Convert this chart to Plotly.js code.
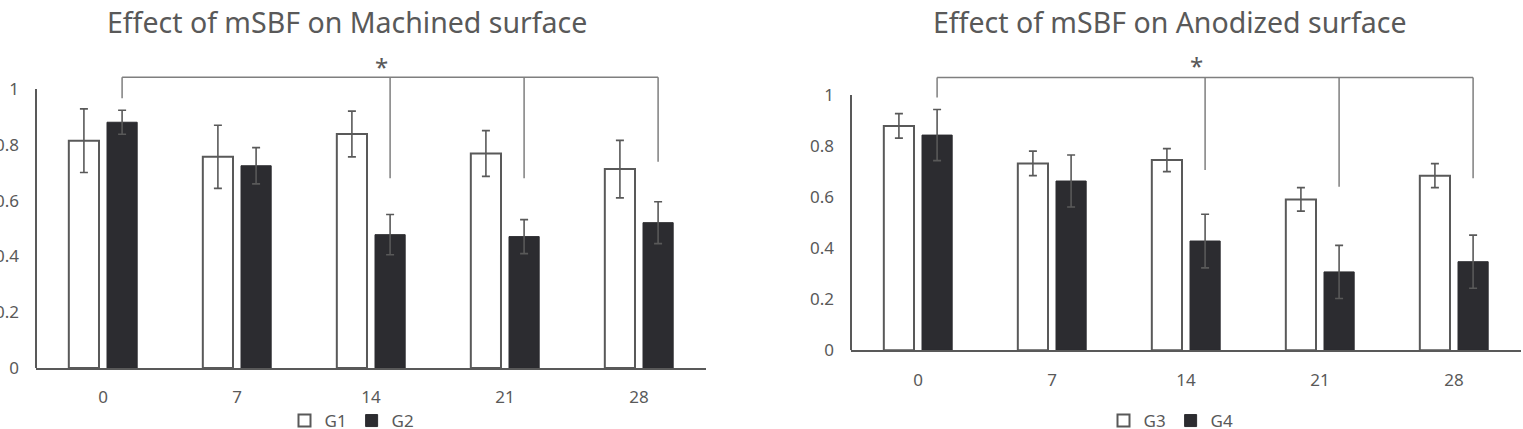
<!DOCTYPE html>
<html>
<head>
<meta charset="utf-8">
<script src="https://cdn.plot.ly/plotly-3.0.1.min.js"></script>
<style>
  html, body { margin: 0; padding: 0; background: #ffffff; }
  #chart { width: 1523px; height: 429px; }
</style>
</head>
<body>
<div id="chart"></div>
<script>
// Days of immersion in mSBF
const days = ['0', '7', '14', '21', '28'];

// Machined surface groups
const g1 = [0.815, 0.757, 0.839, 0.769, 0.713];
const g1Err = [0.114, 0.113, 0.082, 0.082, 0.103];
const g2 = [0.881, 0.725, 0.478, 0.471, 0.521];
const g2Err = [0.043, 0.065, 0.072, 0.061, 0.075];

// Anodized surface groups
const g3 = [0.879, 0.732, 0.745, 0.591, 0.684];
const g3Err = [0.048, 0.048, 0.045, 0.046, 0.047];
const g4 = [0.843, 0.663, 0.428, 0.307, 0.347];
const g4Err = [0.100, 0.102, 0.105, 0.104, 0.104];

// Significance brackets: which days are compared, bracket height, drop-line ends
const bracketDays = [0, 2, 3, 4];
const bracketLeftTop = 1.042;
const bracketLeftEnds = [0.967, 0.680, 0.680, 0.739];
const bracketRightTop = 1.069;
const bracketRightEnds = [0.990, 0.706, 0.641, 0.674];

const yTicks = [0, 0.2, 0.4, 0.6, 0.8, 1];
const yTickText = ['0', '0.2', '0.4', '0.6', '0.8', '1'];

const GREY = '#595959';
const DARK = '#2c2c30';
const FONT = 'Noto Sans, Open Sans, sans-serif';

function errStyle(arr) {
  return { type: 'data', array: arr, visible: true, color: GREY, thickness: 1.6, width: 4 };
}

const traces = [
  { type: 'bar', name: 'G1', x: days, y: g1, error_y: errStyle(g1Err),
    marker: { color: '#ffffff', line: { color: GREY, width: 2 } },
    xaxis: 'x', yaxis: 'y', legend: 'legend' },
  { type: 'bar', name: 'G2', x: days, y: g2, error_y: errStyle(g2Err),
    marker: { color: DARK, line: { color: DARK, width: 1 } },
    xaxis: 'x', yaxis: 'y', legend: 'legend' },
  { type: 'bar', name: 'G3', x: days, y: g3, error_y: errStyle(g3Err),
    marker: { color: '#ffffff', line: { color: GREY, width: 2 } },
    xaxis: 'x2', yaxis: 'y2', legend: 'legend2' },
  { type: 'bar', name: 'G4', x: days, y: g4, error_y: errStyle(g4Err),
    marker: { color: DARK, line: { color: DARK, width: 1 } },
    xaxis: 'x2', yaxis: 'y2', legend: 'legend2' }
];

// offset of the second bar in each group (category units)
const BARGAP = 0.43;
const secondOffset = (1 - BARGAP) / 4;

function bracketShapes(xref, yref, top, ends) {
  const line = { color: '#7f7f7f', width: 1.5 };
  const shapes = [];
  const xs = bracketDays.map(d => d + secondOffset);
  shapes.push({ type: 'line', xref, yref, x0: xs[0], x1: xs[xs.length - 1], y0: top, y1: top, line });
  xs.forEach((x, i) => {
    shapes.push({ type: 'line', xref, yref, x0: x, x1: x, y0: top, y1: ends[i], line });
  });
  return shapes;
}

function yAxisLine(xdom, yref) {
  return { type: 'line', xref: xdom, yref, x0: 0, x1: 0, y0: 0, y1: 1,
           line: { color: GREY, width: 2 } };
}

const xCommon = {
  type: 'category', showline: true, linecolor: GREY, linewidth: 2,
  ticks: '', showgrid: false, zeroline: false, fixedrange: true,
  tickfont: { family: FONT, size: 17, color: GREY }, ticklabelstandoff: 13
};
const yCommon = {
  range: [0, 1.15], tickvals: yTicks, ticktext: yTickText, showline: false,
  showgrid: false, zeroline: false, ticks: '', fixedrange: true,
  tickfont: { family: FONT, size: 17, color: GREY }, ticklabelstandoff: 16
};

const W = 1523, H = 429;

const legendCommon = {
  orientation: 'h', xanchor: 'center', y: 8 / H, yanchor: 'middle',
  font: { family: FONT, size: 17, color: GREY }, itemwidth: 30, tracegroupgap: 0,
  bgcolor: 'rgba(0,0,0,0)'
};

const layout = {
  width: W, height: H,
  margin: { l: 0, r: 0, t: 0, b: 0, autoexpand: false },
  paper_bgcolor: '#ffffff', plot_bgcolor: '#ffffff',
  barmode: 'group', bargap: BARGAP, bargroupgap: 0.21,
  font: { family: FONT, color: GREY },
  xaxis: Object.assign({}, xCommon, { domain: [36 / W, 706 / W], anchor: 'y' }),
  yaxis: Object.assign({}, yCommon, { domain: [(H - 368) / H, (H - 47.2) / H], anchor: 'x' }),
  xaxis2: Object.assign({}, xCommon, { domain: [851 / W, 1521 / W], anchor: 'y2' }),
  yaxis2: Object.assign({}, yCommon, { domain: [(H - 350.3) / H, (H - 56.7) / H], anchor: 'x2' }),
  legend: Object.assign({}, legendCommon, { x: 352 / W }),
  legend2: Object.assign({}, legendCommon, { x: 1171 / W }),
  shapes: [
    yAxisLine('x domain', 'y'),
    yAxisLine('x2 domain', 'y2'),
    ...bracketShapes('x', 'y', bracketLeftTop, bracketLeftEnds),
    ...bracketShapes('x2', 'y2', bracketRightTop, bracketRightEnds)
  ],
  annotations: [
    { text: 'Effect of mSBF on Machined surface', xref: 'paper', yref: 'paper',
      x: 347 / W, y: (H - 22) / H, xanchor: 'center', yanchor: 'middle', showarrow: false,
      font: { family: FONT, size: 28.5, color: GREY } },
    { text: 'Effect of mSBF on Anodized surface', xref: 'paper', yref: 'paper',
      x: 1170 / W, y: (H - 22) / H, xanchor: 'center', yanchor: 'middle', showarrow: false,
      font: { family: FONT, size: 28.5, color: GREY } },
    { text: '*', xref: 'x', yref: 'y', x: 2.08, y: 1.082, showarrow: false,
      xanchor: 'center', yanchor: 'middle', font: { family: FONT, size: 24, color: GREY } },
    { text: '*', xref: 'x2', yref: 'y2', x: 2.08, y: 1.114, showarrow: false,
      xanchor: 'center', yanchor: 'middle', font: { family: FONT, size: 24, color: GREY } }
  ],
  showlegend: true
};

Plotly.newPlot('chart', traces, layout, { staticPlot: true, displayModeBar: false });
</script>
</body>
</html>
